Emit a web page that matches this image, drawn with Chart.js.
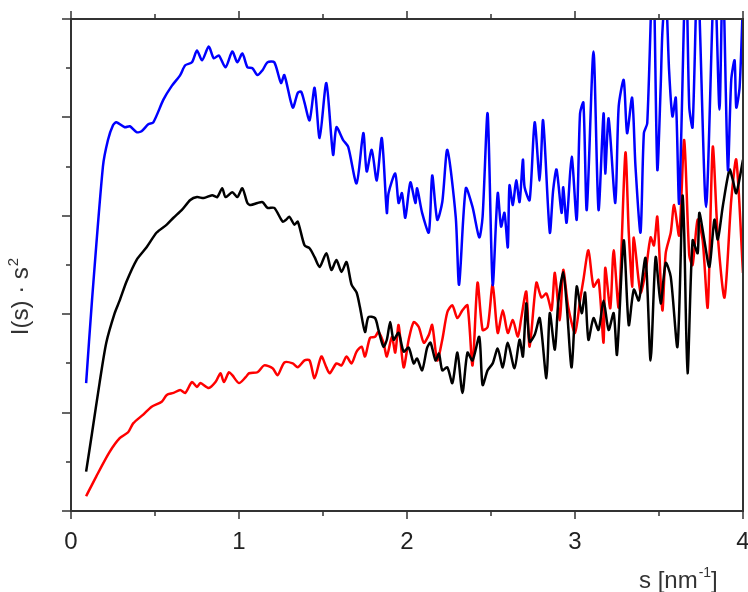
<!DOCTYPE html>
<html>
<head>
<meta charset="utf-8">
<script src="https://cdn.jsdelivr.net/npm/chart.js@4.4.1/dist/chart.umd.min.js"></script>
<style>
  html, body { margin: 0; padding: 0; background: #fff; }
  #wrap { width: 748px; height: 592px; }
</style>
</head>
<body>
<div id="wrap"><canvas id="kratky" width="748" height="592"></canvas></div>
<script>
// Kratky-Kurven, Werte
const sBlue = [0.09, 0.125, 0.19, 0.22, 0.25, 0.27, 0.32, 0.35, 0.39, 0.42, 0.46, 0.49, 0.55, 0.60, 0.65, 0.68, 0.72, 0.75, 0.78, 0.82, 0.85, 0.88, 0.92, 0.96, 0.99, 1.02, 1.05, 1.08, 1.11, 1.14, 1.17, 1.21, 1.25, 1.27, 1.32, 1.35, 1.37, 1.39, 1.42, 1.45, 1.48, 1.52, 1.56, 1.58, 1.62, 1.65, 1.70, 1.74, 1.76, 1.79, 1.82, 1.85, 1.88, 1.89, 1.93, 1.95, 1.97, 1.99, 2.02, 2.05, 2.06, 2.09, 2.13, 2.15, 2.18, 2.21, 2.24, 2.29, 2.31, 2.35, 2.39, 2.43, 2.45, 2.48, 2.51, 2.54, 2.56, 2.58, 2.60, 2.61, 2.63, 2.65, 2.67, 2.69, 2.70, 2.73, 2.76, 2.79, 2.81, 2.85, 2.87, 2.89, 2.92, 2.93, 2.95, 2.98, 3.01, 3.03, 3.05, 3.07, 3.11, 3.14, 3.17, 3.18, 3.20, 3.24, 3.26, 3.29, 3.31, 3.34, 3.36, 3.39, 3.41, 3.43, 3.465, 3.49, 3.51, 3.52, 3.54, 3.56, 3.58, 3.60, 3.62, 3.66, 3.68, 3.70, 3.73, 3.78, 3.83, 3.86, 3.88, 3.91, 3.93, 3.95, 3.96, 3.98, 4.00];
const blue = [1.30, 2.14, 3.50, 3.77, 3.92, 3.95, 3.90, 3.91, 3.85, 3.86, 3.93, 3.95, 4.18, 4.32, 4.43, 4.53, 4.56, 4.68, 4.58, 4.72, 4.60, 4.63, 4.51, 4.67, 4.56, 4.65, 4.51, 4.50, 4.43, 4.48, 4.56, 4.56, 4.35, 4.43, 4.10, 4.25, 4.26, 4.15, 3.97, 4.30, 3.79, 4.35, 3.62, 3.90, 3.77, 3.70, 3.33, 3.84, 3.45, 3.67, 3.36, 3.79, 3.03, 3.23, 3.43, 3.13, 3.23, 2.98, 3.34, 3.13, 3.28, 3.03, 2.83, 3.41, 2.96, 3.14, 3.67, 2.99, 2.30, 3.28, 3.09, 2.78, 2.99, 4.04, 2.30, 3.23, 2.89, 3.03, 2.68, 3.31, 3.11, 3.36, 3.14, 3.57, 3.29, 3.16, 3.95, 3.36, 3.97, 2.83, 3.26, 3.47, 3.03, 3.29, 2.93, 3.60, 2.96, 4.04, 4.15, 3.06, 4.67, 3.06, 4.04, 3.43, 3.99, 3.13, 4.11, 4.38, 3.84, 4.20, 3.50, 2.83, 3.84, 3.94, 5.60, 3.47, 4.31, 4.86, 5.30, 4.48, 4.01, 4.20, 3.13, 5.60, 4.11, 3.90, 5.50, 3.09, 5.50, 4.08, 5.50, 3.47, 4.38, 4.58, 4.10, 4.31, 5.20];

const sBlack = [0.09, 0.125, 0.17, 0.21, 0.26, 0.29, 0.33, 0.39, 0.45, 0.51, 0.57, 0.61, 0.66, 0.71, 0.75, 0.79, 0.84, 0.87, 0.90, 0.92, 0.96, 0.99, 1.02, 1.05, 1.07, 1.11, 1.14, 1.17, 1.21, 1.26, 1.28, 1.30, 1.33, 1.35, 1.39, 1.42, 1.45, 1.48, 1.52, 1.55, 1.58, 1.61, 1.64, 1.67, 1.70, 1.72, 1.75, 1.77, 1.81, 1.83, 1.86, 1.88, 1.90, 1.92, 1.95, 1.98, 2.01, 2.04, 2.06, 2.09, 2.12, 2.14, 2.17, 2.19, 2.21, 2.24, 2.27, 2.30, 2.33, 2.36, 2.39, 2.43, 2.45, 2.48, 2.51, 2.54, 2.57, 2.60, 2.64, 2.67, 2.69, 2.71, 2.73, 2.76, 2.79, 2.83, 2.85, 2.88, 2.90, 2.93, 2.95, 2.98, 3.01, 3.04, 3.06, 3.08, 3.11, 3.14, 3.17, 3.20, 3.23, 3.25, 3.29, 3.32, 3.35, 3.38, 3.42, 3.45, 3.48, 3.51, 3.54, 3.57, 3.61, 3.64, 3.65, 3.67, 3.70, 3.73, 3.74, 3.77, 3.80, 3.83, 3.85, 3.88, 3.92, 3.94, 3.96, 4.00];
const black = [0.40, 0.79, 1.30, 1.71, 2.01, 2.14, 2.33, 2.55, 2.68, 2.83, 2.91, 2.98, 3.06, 3.16, 3.19, 3.18, 3.21, 3.19, 3.28, 3.19, 3.24, 3.19, 3.28, 3.13, 3.11, 3.13, 3.14, 3.08, 3.08, 2.94, 2.96, 2.99, 2.91, 2.94, 2.70, 2.67, 2.58, 2.48, 2.62, 2.45, 2.55, 2.43, 2.53, 2.30, 2.22, 2.07, 1.82, 1.97, 1.96, 1.84, 1.67, 1.74, 1.92, 1.74, 1.81, 1.62, 1.66, 1.50, 1.55, 1.43, 1.66, 1.71, 1.53, 1.60, 1.43, 1.46, 1.30, 1.61, 1.20, 1.61, 1.53, 1.77, 1.28, 1.43, 1.50, 1.65, 1.46, 1.71, 1.45, 1.74, 1.57, 2.11, 1.72, 1.79, 1.96, 1.35, 2.01, 1.64, 2.11, 2.43, 2.11, 1.46, 2.28, 2.01, 2.22, 1.74, 1.96, 1.84, 2.14, 1.84, 2.01, 1.59, 2.75, 1.89, 2.25, 2.14, 2.57, 1.53, 2.58, 2.11, 2.52, 2.38, 1.67, 3.20, 2.83, 1.40, 2.75, 2.62, 3.03, 2.75, 2.48, 2.96, 2.76, 3.10, 3.47, 3.36, 3.23, 3.57];

const sRed = [0.09, 0.15, 0.23, 0.29, 0.34, 0.37, 0.43, 0.48, 0.54, 0.57, 0.61, 0.65, 0.68, 0.72, 0.75, 0.77, 0.82, 0.86, 0.89, 0.91, 0.94, 0.96, 1.00, 1.04, 1.06, 1.11, 1.15, 1.20, 1.23, 1.27, 1.32, 1.35, 1.39, 1.42, 1.45, 1.49, 1.52, 1.54, 1.58, 1.61, 1.64, 1.67, 1.70, 1.73, 1.75, 1.78, 1.81, 1.83, 1.86, 1.88, 1.91, 1.93, 1.95, 1.98, 2.01, 2.04, 2.07, 2.10, 2.13, 2.15, 2.18, 2.21, 2.24, 2.27, 2.30, 2.33, 2.36, 2.39, 2.42, 2.45, 2.48, 2.51, 2.54, 2.57, 2.60, 2.63, 2.66, 2.68, 2.71, 2.73, 2.77, 2.80, 2.83, 2.86, 2.88, 2.91, 2.93, 2.96, 3.00, 3.03, 3.05, 3.08, 3.11, 3.14, 3.17, 3.18, 3.21, 3.23, 3.26, 3.30, 3.32, 3.34, 3.35, 3.39, 3.42, 3.45, 3.47, 3.49, 3.52, 3.54, 3.57, 3.59, 3.62, 3.65, 3.68, 3.70, 3.73, 3.76, 3.79, 3.82, 3.85, 3.89, 3.93, 3.96, 4.00];
const red = [0.15, 0.35, 0.60, 0.74, 0.80, 0.89, 0.98, 1.06, 1.11, 1.18, 1.20, 1.23, 1.20, 1.31, 1.26, 1.30, 1.25, 1.31, 1.40, 1.31, 1.41, 1.38, 1.30, 1.36, 1.40, 1.41, 1.48, 1.45, 1.38, 1.51, 1.50, 1.46, 1.53, 1.53, 1.35, 1.57, 1.46, 1.40, 1.50, 1.48, 1.57, 1.50, 1.62, 1.67, 1.57, 1.76, 1.77, 1.82, 1.71, 1.57, 1.77, 1.61, 1.89, 1.46, 1.74, 1.92, 1.87, 1.71, 1.79, 1.89, 1.53, 1.74, 2.02, 2.09, 1.96, 2.04, 2.09, 1.48, 2.32, 1.84, 1.87, 2.30, 1.81, 2.04, 1.81, 1.94, 1.77, 1.96, 2.23, 1.67, 2.32, 2.17, 2.21, 2.04, 2.42, 1.94, 2.45, 2.07, 1.81, 2.14, 2.35, 2.65, 2.28, 2.35, 1.71, 2.47, 2.06, 2.65, 2.07, 3.64, 2.83, 2.28, 2.78, 2.22, 2.43, 2.78, 2.70, 2.99, 2.04, 2.62, 2.83, 3.11, 2.80, 3.77, 2.60, 2.50, 2.96, 2.75, 2.07, 3.70, 2.79, 2.17, 3.16, 3.57, 2.42];

const xTicks = [0, 1, 2, 3, 4];

function toPoints(xs, ys) {
    return xs.map((x, i) => ({ x: x, y: ys[i] }));
}

const AXIS_COLOR = '#333333';
const FONT = '"Liberation Sans", Arial, sans-serif';

// Rahmen, Ticks (auch kleine) und Achsentitel selbst zeichnen
const framePlugin = {
    id: 'frame',
    afterDatasetsDraw(chart) {
        const { ctx, chartArea: a, scales: { x, y } } = chart;
        ctx.save();
        ctx.strokeStyle = AXIS_COLOR;
        ctx.lineWidth = 2;
        ctx.strokeRect(a.left, a.top, a.right - a.left, a.bottom - a.top);

        ctx.lineWidth = 1.5;
        ctx.beginPath();
        for (let v = 0; v <= 4.001; v += 0.5) {
            const px = Math.round(x.getPixelForValue(v));
            const len = Math.abs(v - Math.round(v)) < 1e-6 ? 8 : 5;
            ctx.moveTo(px, a.bottom);
            ctx.lineTo(px, a.bottom + len);
            ctx.moveTo(px, a.top);
            ctx.lineTo(px, a.top - len);
        }
        for (let v = 0; v <= 5.001; v += 0.5) {
            const py = Math.round(y.getPixelForValue(v));
            const len = Math.abs(v - Math.round(v)) < 1e-6 ? 9 : 5;
            ctx.moveTo(a.left, py);
            ctx.lineTo(a.left - len, py);
        }
        ctx.stroke();

        // y-Titel
        ctx.fillStyle = '#333';
        ctx.save();
        ctx.translate(28, 297);
        ctx.rotate(-Math.PI / 2);
        ctx.font = '24px ' + FONT;
        const main = 'I(s) \u00b7 s';
        const w1 = ctx.measureText(main).width;
        ctx.font = '15px ' + FONT;
        const w2 = ctx.measureText('2').width;
        const start = -(w1 + w2) / 2;
        ctx.font = '24px ' + FONT;
        ctx.textBaseline = 'alphabetic';
        ctx.fillText(main, start, 0);
        ctx.font = '15px ' + FONT;
        ctx.fillText('2', start + w1 + 1, -10);
        ctx.restore();

        // x-Titel
        ctx.font = '24px ' + FONT;
        ctx.textBaseline = 'alphabetic';
        let tx = 639;
        const ty = 588;
        ctx.fillText('s [nm', tx, ty);
        tx += ctx.measureText('s [nm').width + 1;
        ctx.font = '14px ' + FONT;
        ctx.fillText('-1', tx, ty - 11);
        tx += ctx.measureText('-1').width;
        ctx.font = '24px ' + FONT;
        ctx.fillText(']', tx, ty);
        ctx.restore();
    }
};

const ctx = document.getElementById('kratky').getContext('2d');
new Chart(ctx, {
    type: 'line',
    data: {
        datasets: [
            { label: 'blau', data: toPoints(sBlue, blue), borderColor: '#0000ff' },
            { label: 'schwarz', data: toPoints(sBlack, black), borderColor: '#000000' },
            { label: 'rot', data: toPoints(sRed, red), borderColor: '#ff0000' }
        ]
    },
    options: {
        responsive: false,
        animation: false,
        events: [],
        layout: { padding: { top: 19, right: 5, left: 0, bottom: 0 } },
        elements: {
            line: { borderWidth: 2.5, tension: 0.25, fill: false },
            point: { radius: 0 }
        },
        datasets: { line: { clip: 0 } },
        plugins: {
            legend: { display: false },
            tooltip: { enabled: false }
        },
        scales: {
            x: {
                type: 'linear',
                min: 0,
                max: 4,
                afterFit(scale) {
                    scale.height = 81;
                    scale.paddingLeft = 0;
                    scale.paddingRight = 0;
                },
                afterBuildTicks(scale) { scale.ticks = xTicks.map(v => ({ value: v })); },
                grid: { display: false, drawTicks: false, tickLength: 0 },
                border: { display: false },
                ticks: {
                    padding: 17,
                    color: '#222',
                    font: { family: FONT, size: 24 },
                    maxRotation: 0
                }
            },
            y: {
                type: 'linear',
                min: 0,
                max: 5,
                afterFit(scale) {
                    scale.width = 71;
                    scale.paddingTop = 0;
                    scale.paddingBottom = 0;
                },
                grid: { display: false, drawTicks: false },
                border: { display: false },
                ticks: { display: false }
            }
        }
    },
    plugins: [framePlugin]
});
</script>
</body>
</html>
